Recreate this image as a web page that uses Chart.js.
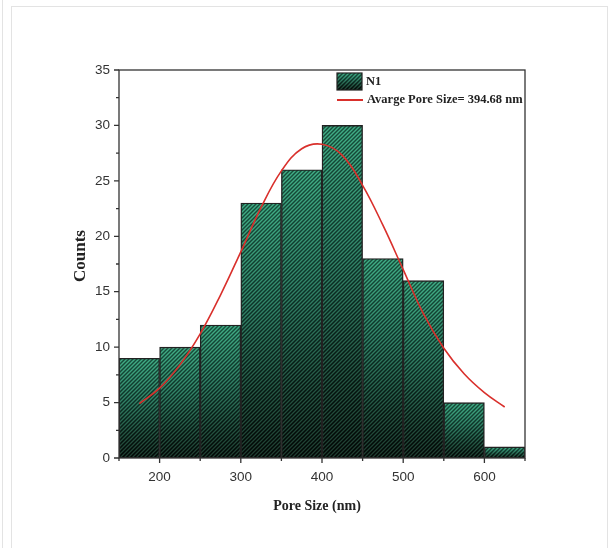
<!DOCTYPE html>
<html>
<head>
<meta charset="utf-8">
<script src="https://cdn.jsdelivr.net/npm/chart.js@4.4.1/dist/chart.umd.min.js"></script>
<style>
  html, body { margin: 0; padding: 0; background: #fff; }
  #wrap { position: relative; width: 609px; height: 548px; overflow: hidden; }
  .edge { position: absolute; border: 0 solid #e3e3e3; }
  #edge1 { left: 2px; top: 0; height: 548px; border-left-width: 1px; }
  #edge2 { left: 11px; top: 6px; width: 595px; height: 600px; border-width: 1px; }
  canvas { position: absolute; left: 0; top: 0; }
</style>
</head>
<body>
<div id="wrap">
  <div class="edge" id="edge1"></div>
  <div class="edge" id="edge2"></div>
  <canvas id="histChart" width="609" height="548"></canvas>
</div>
<script>
// histogram bins (centre of each 50 nm bin) and counts
const binCenters = [175, 225, 275, 325, 375, 425, 475, 525, 575, 625];
const counts = [9, 10, 12, 23, 26, 30, 18, 16, 5, 1];

// fitted curve
const curveX = [175, 200, 225, 250, 275, 300, 325, 350, 375, 400, 425, 450, 475, 500, 525, 550, 575, 600, 625];
const curveY = [4.9, 6.3, 8.4, 11.2, 14.7, 18.6, 22.6, 25.9, 27.9, 28.3, 27.3, 24.6, 21.0, 17.0, 13.0, 9.9, 7.6, 5.9, 4.6];

const xTicks = [200, 300, 400, 500, 600];
const yTicks = [0, 5, 10, 15, 20, 25, 30, 35];

const seriesName = "N1";
const fitName = "Avarge Pore Size= 394.68 nm";

/*===== hatched + shaded fill =====*/
const fillCache = {};
function hatchFill(ctx, top, bottom) {
  const key = Math.round(top) + "|" + Math.round(bottom);
  if (fillCache[key]) return fillCache[key];
  const p = 4, h = 548;
  const c = document.createElement("canvas");
  c.width = p;
  c.height = h;
  const g = c.getContext("2d");
  const grad = g.createLinearGradient(0, top, 0, bottom);
  grad.addColorStop(0, "#2f9b76");
  grad.addColorStop(0.4, "#1c6650");
  grad.addColorStop(0.75, "#0c2d22");
  grad.addColorStop(1, "#030b08");
  g.fillStyle = grad;
  g.fillRect(0, 0, p, h);
  g.lineWidth = 1.3;
  for (let k = -2; k < h / p + 4; k++) {
    const cc = k * p;
    g.strokeStyle = "rgba(0,0,0,0.5)";
    g.beginPath();
    g.moveTo(-p, cc + p);
    g.lineTo(2 * p, cc - 2 * p);
    g.stroke();
    g.strokeStyle = "rgba(140,255,205,0.2)";
    g.beginPath();
    g.moveTo(-p, cc + p + p / 2);
    g.lineTo(2 * p, cc - 2 * p + p / 2);
    g.stroke();
  }
  fillCache[key] = ctx.createPattern(c, "repeat");
  return fillCache[key];
}

/*===== frame, ticks, titles, legend =====*/
const decorPlugin = {
  id: "decor",
  afterDraw(chart) {
    const ctx = chart.ctx;
    const { left, right, top, bottom } = chart.chartArea;
    const xs = chart.scales.x, ys = chart.scales.y;
    ctx.save();
    ctx.strokeStyle = "#333";
    ctx.lineWidth = 1.3;
    ctx.strokeRect(left, top, right - left, bottom - top);

    ctx.beginPath();
    xs.ticks.forEach((t) => {
      const px = xs.getPixelForValue(t.value);
      const len = t.value % 100 === 0 ? 5 : 3;
      ctx.moveTo(px, bottom);
      ctx.lineTo(px, bottom + len);
    });
    ys.ticks.forEach((t) => {
      const py = ys.getPixelForValue(t.value);
      const len = t.value % 5 === 0 ? 5 : 3;
      ctx.moveTo(left, py);
      ctx.lineTo(left - len, py);
    });
    ctx.stroke();

    // axis titles
    ctx.fillStyle = "#222";
    ctx.textAlign = "center";
    ctx.textBaseline = "middle";
    ctx.font = 'bold 14px "Liberation Serif", serif';
    ctx.fillText("Pore Size (nm)", 317, 506);
    ctx.save();
    ctx.translate(81, 256);
    ctx.rotate(-Math.PI / 2);
    ctx.font = 'bold 17px "Liberation Serif", serif';
    ctx.fillText("Counts", 0, 0);
    ctx.restore();

    // legend
    ctx.fillStyle = hatchFill(ctx, 73, 90);
    ctx.fillRect(337, 73, 25, 17);
    ctx.strokeStyle = "#222";
    ctx.lineWidth = 1.2;
    ctx.strokeRect(337, 73, 25, 17);
    ctx.strokeStyle = "#d9302c";
    ctx.lineWidth = 2;
    ctx.beginPath();
    ctx.moveTo(337, 100);
    ctx.lineTo(363, 100);
    ctx.stroke();
    ctx.fillStyle = "#222";
    ctx.textAlign = "left";
    ctx.font = 'bold 12.5px "Liberation Serif", serif';
    ctx.fillText(seriesName, 366, 82);
    ctx.fillText(fitName, 367, 100);
    ctx.restore();
  },
};

function createHistogram() {
  const ctx = document.getElementById("histChart").getContext("2d");
  const barData = binCenters.map((x, i) => ({ x: x, y: counts[i] }));
  const curveData = curveX.map((x, i) => ({ x: x, y: curveY[i] }));

  new Chart(ctx, {
    type: "bar",
    data: {
      datasets: [
        {
          type: "line",
          label: fitName,
          data: curveData,
          borderColor: "#d9302c",
          borderWidth: 1.6,
          pointRadius: 0,
          tension: 0.4,
          fill: false,
          order: 0,
        },
        {
          label: seriesName,
          data: barData,
          backgroundColor: (c) => {
            const ys = c.chart.scales.y;
            if (c.type !== "data" || !ys || !c.chart.chartArea) return "#2f9b76";
            return hatchFill(c.chart.ctx, ys.getPixelForValue(c.parsed.y), ys.getPixelForValue(0));
          },
          borderColor: "#222",
          borderWidth: 1.4,
          borderSkipped: false,
          barPercentage: 1,
          categoryPercentage: 1,
          order: 1,
        },
      ],
    },
    options: {
      responsive: false,
      animation: false,
      layout: { padding: { left: 0, top: 70, right: 84, bottom: 0 } },
      plugins: { legend: { display: false }, tooltip: { enabled: false } },
      scales: {
        x: {
          type: "linear",
          min: 150,
          max: 650,
          offset: false,
          grid: { display: false, offset: false, drawTicks: false },
          border: { display: false },
          afterFit: (s) => { s.height = 90; },
          ticks: {
            stepSize: 50,
            autoSkip: false,
            maxRotation: 0,
            padding: 11,
            color: "#333",
            font: { family: '"Liberation Sans", Arial, sans-serif', size: 13.5 },
            callback: (v) => (xTicks.includes(v) ? v : ""),
          },
        },
        y: {
          min: 0,
          max: 35,
          grid: { display: false, drawTicks: false },
          border: { display: false },
          afterFit: (s) => { s.width = 119; },
          ticks: {
            stepSize: 2.5,
            autoSkip: false,
            padding: 9,
            color: "#333",
            font: { family: '"Liberation Sans", Arial, sans-serif', size: 13.5 },
            callback: (v) => (yTicks.includes(v) ? v : ""),
          },
        },
      },
    },
    plugins: [decorPlugin],
  });
}

createHistogram();
</script>
</body>
</html>
